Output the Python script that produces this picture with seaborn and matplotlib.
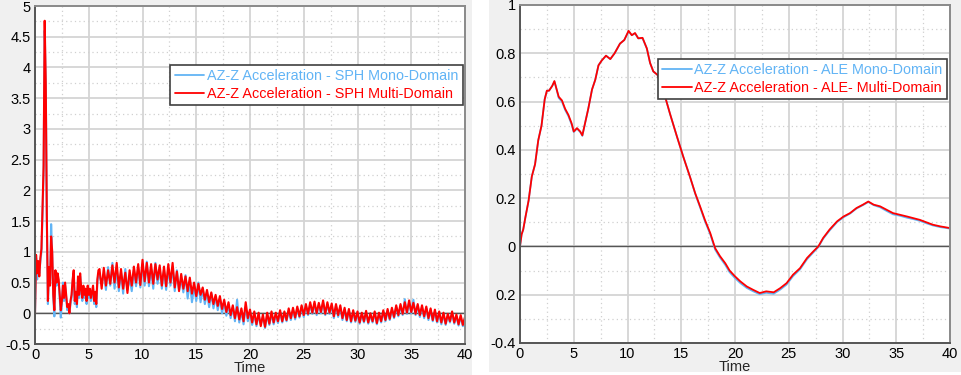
import numpy as np
import pandas as pd
import matplotlib
matplotlib.use("Agg")
import matplotlib.pyplot as plt
from matplotlib.patches import Rectangle
from matplotlib.ticker import MultipleLocator, FixedLocator
import seaborn as sns

# ---------------- data: SPH (left) ----------------
sph_t_early = [round(0.1 * i, 1) for i in range(60)]  # 0.0 .. 5.9
sph_t_late = [round(6.0 + 0.2 * i, 1) for i in range(171)]  # 6.0 .. 40.0

sph_multi_early = [0.0, 0.95, 0.65, 0.85, 0.6, 0.9, 1.05, 1.7, 2.4, 4.76,
                   3.75, 1.6, 0.2, 0.75, 0.45, 1.25, 1.0, 0.3, 0.05, 0.7,
                   0.5, 0.65, 0.55, 0.3, 0.05, 0.2, 0.45, 0.25, 0.5, 0.3,
                   0.1, 0.15, 0.0, 0.2, 0.3, 0.55, 0.7, 0.2, 0.35, 0.15,
                   0.6, 0.3, 0.65, 0.4, 0.25, 0.45, 0.3, 0.4, 0.2, 0.45,
                   0.3, 0.4, 0.25, 0.35, 0.45, 0.2, 0.35, 0.15, 0.55, 0.7]
sph_multi_late = [0.72, 0.40, 0.74, 0.45, 0.70,
                  0.48, 0.78, 0.50, 0.82, 0.42,
                  0.72, 0.40, 0.66, 0.33, 0.70,
                  0.45, 0.76, 0.50, 0.80, 0.46,
                  0.87, 0.52, 0.82, 0.50, 0.80,
                  0.48, 0.80, 0.55, 0.78, 0.45,
                  0.76, 0.44, 0.80, 0.50, 0.82,
                  0.42, 0.68, 0.36, 0.64, 0.40,
                  0.60, 0.36, 0.58, 0.32, 0.50,
                  0.28, 0.48, 0.30, 0.42, 0.22,
                  0.38, 0.18, 0.34, 0.15, 0.30,
                  0.12, 0.28, 0.07, 0.22, 0.02,
                  0.18, -0.03, 0.13, -0.08, 0.10,
                  -0.10, 0.08, -0.13, 0.18, -0.08,
                  0.06, -0.15, 0.03, -0.18, 0.01,
                  -0.21, -0.02, -0.22, 0.01, -0.17,
                  0.03, -0.15, 0.01, -0.13, 0.05,
                  -0.13, 0.03, -0.11, 0.08, -0.08,
                  0.09, -0.07, 0.11, -0.05, 0.13,
                  -0.03, 0.15, -0.01, 0.18, 0.01,
                  0.19, 0.00, 0.17, 0.02, 0.21,
                  -0.01, 0.18, 0.01, 0.16, -0.05,
                  0.15, -0.03, 0.13, -0.08, 0.09,
                  -0.11, 0.07, -0.13, 0.05, -0.12,
                  0.03, -0.15, 0.01, -0.13, 0.04,
                  -0.15, 0.00, -0.13, 0.03, -0.16,
                  0.01, -0.13, 0.05, -0.11, 0.07,
                  -0.09, 0.09, -0.06, 0.13, -0.03,
                  0.15, -0.01, 0.18, 0.01, 0.21,
                  0.02, 0.17, -0.01, 0.15, -0.03,
                  0.13, -0.05, 0.11, -0.08, 0.08,
                  -0.11, 0.06, -0.13, 0.03, -0.15,
                  0.01, -0.17, -0.01, -0.13, 0.03,
                  -0.15, -0.02, -0.18, -0.03, -0.19,
                  -0.06]

sph_mono_early = [0.0, 0.9, 0.55, 0.8, 0.65, 0.85, 1.0, 1.6, 2.3, 4.6,
                  3.7, 1.5, 0.15, 0.7, 0.5, 1.45, 0.95, 0.25, -0.05, 0.65,
                  0.45, 0.6, 0.5, 0.25, -0.07, 0.15, 0.5, 0.2, 0.45, 0.25,
                  0.05, 0.1, 0.0, 0.15, 0.25, 0.5, 0.65, 0.15, 0.3, 0.1,
                  0.55, 0.25, 0.6, 0.35, 0.2, 0.4, 0.25, 0.35, 0.15, 0.4,
                  0.25, 0.35, 0.2, 0.3, 0.4, 0.15, 0.3, 0.1, 0.5, 0.65]
sph_mono_late = [0.60, 0.50, 0.64, 0.38, 0.75,
                 0.45, 0.82, 0.40, 0.72, 0.36,
                 0.66, 0.32, 0.72, 0.38, 0.58,
                 0.36, 0.70, 0.44, 0.74, 0.42,
                 0.80, 0.45, 0.84, 0.44, 0.72,
                 0.40, 0.82, 0.48, 0.72, 0.40,
                 0.70, 0.38, 0.72, 0.45, 0.74,
                 0.36, 0.70, 0.38, 0.56, 0.34,
                 0.62, 0.24, 0.52, 0.18, 0.44,
                 0.20, 0.50, 0.18, 0.40, 0.15,
                 0.34, 0.10, 0.32, 0.08, 0.27,
                 0.05, 0.24, 0.00, 0.18, -0.04,
                 0.14, -0.08, 0.10, -0.13, 0.22,
                 -0.15, 0.04, -0.18, 0.10, -0.13,
                 0.02, -0.19, -0.01, -0.21, -0.03,
                 -0.18, -0.06, -0.24, -0.03, -0.19,
                 -0.01, -0.18, -0.03, -0.16, 0.02,
                 -0.15, 0.00, -0.13, 0.04, -0.11,
                 0.05, -0.10, 0.08, -0.07, 0.10,
                 -0.06, 0.12, -0.03, 0.14, -0.01,
                 0.15, -0.03, 0.14, 0.00, 0.17,
                 -0.03, 0.14, -0.01, 0.12, -0.08,
                 0.12, -0.06, 0.10, -0.11, 0.06,
                 -0.13, 0.04, -0.15, 0.02, -0.14,
                 -0.01, -0.17, -0.02, -0.15, 0.00,
                 -0.17, -0.03, -0.15, 0.00, -0.18,
                 -0.02, -0.15, 0.02, -0.13, 0.04,
                 -0.11, 0.06, -0.08, 0.10, -0.05,
                 0.12, -0.03, 0.23, -0.01, 0.17,
                 0.00, 0.22, -0.03, 0.12, -0.06,
                 0.10, -0.08, 0.08, -0.11, 0.05,
                 -0.13, 0.02, -0.15, 0.00, -0.18,
                 -0.02, -0.19, -0.04, -0.15, 0.00,
                 -0.17, -0.05, -0.20, -0.06, -0.21,
                 -0.09]

# ---------------- data: ALE (right) ----------------
ale_t = [0.0, 0.15, 0.3, 0.5, 0.8, 1.1, 1.4, 1.7, 2.0, 2.3, 2.5, 2.7, 3.0, 3.2,
         3.35, 3.6, 3.9, 4.2, 4.5, 4.8, 5.0, 5.3, 5.6, 5.8, 6.05, 6.35, 6.7,
         7.0, 7.3, 7.6, 8.0, 8.4, 8.8, 9.3, 9.7, 10.1, 10.4, 10.7, 11.0, 11.4,
         11.8, 12.1, 12.4, 12.8, 13.2, 13.5, 13.95, 14.6, 15.2, 15.8, 16.3,
         16.75, 17.2, 17.7, 18.15, 18.6, 19.1, 19.5, 20.0, 20.5, 21.1, 21.7,
         22.3, 22.9, 23.6, 24.2, 24.8, 25.4, 26.05, 26.7, 27.3, 27.75, 28.2,
         28.8, 29.5, 30.1, 30.7, 31.3, 31.9, 32.4, 32.9, 33.5, 34.1, 34.7,
         35.35, 36.0, 36.6, 37.2, 37.8, 38.4, 39.1, 40.0]
ale_multi = [0.00, 0.05, 0.07, 0.12, 0.19, 0.29, 0.34, 0.44, 0.50, 0.61, 0.645,
             0.645, 0.665, 0.685, 0.66, 0.62, 0.605, 0.57, 0.545, 0.51, 0.476,
             0.49, 0.476, 0.46, 0.51, 0.57, 0.65, 0.69, 0.75, 0.77, 0.79, 0.776,
             0.80, 0.84, 0.855, 0.893, 0.875, 0.884, 0.862, 0.864, 0.82, 0.76,
             0.725, 0.71, 0.66, 0.62, 0.55, 0.455, 0.37, 0.29, 0.22, 0.166,
             0.11, 0.055, -0.007, -0.04, -0.07, -0.10, -0.124, -0.145, -0.166,
             -0.18, -0.193, -0.186, -0.19, -0.173, -0.152, -0.117, -0.09,
             -0.048, -0.02, 0.0, 0.035, 0.07, 0.104, 0.124, 0.138, 0.159, 0.173,
             0.186, 0.173, 0.166, 0.152, 0.138, 0.131, 0.124, 0.117, 0.11, 0.10,
             0.09, 0.083, 0.076]
ale_mono = [0.00, 0.05, 0.07, 0.12, 0.19, 0.29, 0.34, 0.44, 0.50, 0.61, 0.645,
            0.645, 0.665, 0.683, 0.66, 0.615, 0.60, 0.565, 0.54, 0.505, 0.474,
            0.488, 0.474, 0.458, 0.51, 0.57, 0.65, 0.69, 0.75, 0.77, 0.79, 0.776,
            0.80, 0.84, 0.855, 0.891, 0.875, 0.882, 0.862, 0.862, 0.82, 0.76,
            0.725, 0.71, 0.66, 0.62, 0.55, 0.455, 0.37, 0.29, 0.218, 0.162,
            0.105, 0.05, -0.013, -0.046, -0.077, -0.107, -0.131, -0.152, -0.172,
            -0.186, -0.198, -0.192, -0.196, -0.179, -0.158, -0.123, -0.095,
            -0.053, -0.024, -0.003, 0.032, 0.066, 0.101, 0.121, 0.136, 0.157,
            0.171, 0.184, 0.171, 0.162, 0.147, 0.133, 0.127, 0.119, 0.113,
            0.106, 0.096, 0.087, 0.08, 0.074]

sph_labels = ["AZ-Z Acceleration - SPH Mono-Domain", "AZ-Z Acceleration - SPH Multi-Domain"]
ale_labels = ["AZ-Z Acceleration - ALE Mono-Domain", "AZ-Z Acceleration - ALE- Multi-Domain"]

left_yticks = [-0.5, 0, 0.5, 1, 1.5, 2, 2.5, 3, 3.5, 4, 4.5, 5]
left_yticklabels = ["-0.5", "0", "0.5", "1", "1.5", "2", "2.5", "3", "3.5", "4", "4.5", "5"]
right_yticks = [-0.4, -0.2, 0, 0.2, 0.4, 0.6, 0.8, 1.0]
right_yticklabels = ["-0.4", "0.2", "0", "0.2", "0.4", "0.6", "0.8", "1"]
xticks = [0, 5, 10, 15, 20, 25, 30, 35, 40]
xticklabels = ["0", "5", "10", "15", "20", "25", "30", "35", "40"]

BLUE = "#62b4f5"
RED = "#ff0000"
PANEL = "#f0f0f0"

sns.set_style("white")
plt.rcParams["font.family"] = ["Liberation Sans", "DejaVu Sans"]

W, H = 961, 375
fig = plt.figure(figsize=(W / 100, H / 100), dpi=100, facecolor="white")

# panel backgrounds
fig.add_artist(Rectangle((0, 0), 472 / W, 1, transform=fig.transFigure,
                         facecolor=PANEL, edgecolor="none", zorder=-10))
fig.add_artist(Rectangle((489 / W, 3 / H), 472 / W, 1 - 3 / H, transform=fig.transFigure,
                         facecolor=PANEL, edgecolor="none", zorder=-10))


def make_axes(x0, x1, ytop, ybot):
    return fig.add_axes([x0 / W, 1 - ybot / H, (x1 - x0) / W, (ybot - ytop) / H])


axL = make_axes(35, 465, 6, 344)
axR = make_axes(520, 950, 5, 343)

sph_t = sph_t_early + sph_t_late
dfL = pd.DataFrame({
    "Time": sph_t + sph_t,
    "value": sph_mono_early + sph_mono_late + sph_multi_early + sph_multi_late,
    "series": [sph_labels[0]] * len(sph_t) + [sph_labels[1]] * len(sph_t),
})
dfR = pd.DataFrame({
    "Time": ale_t + ale_t,
    "value": ale_mono + ale_multi,
    "series": [ale_labels[0]] * len(ale_t) + [ale_labels[1]] * len(ale_t),
})


def style_axes(ax, ylim, yticks, yticklabels, yminor):
    ax.set_facecolor("white")
    ax.set_xlim(0, 40)
    ax.set_ylim(*ylim)
    ax.xaxis.set_major_locator(FixedLocator(xticks))
    ax.set_xticklabels(xticklabels)
    ax.yaxis.set_major_locator(FixedLocator(yticks))
    ax.set_yticklabels(yticklabels)
    ax.xaxis.set_minor_locator(MultipleLocator(2.5))
    ax.yaxis.set_minor_locator(MultipleLocator(yminor))
    ax.grid(which="major", color="#d4d4d4", linewidth=1.3, linestyle="-", zorder=0)
    ax.grid(which="minor", color="#d0d0d0", linewidth=0.9, linestyle=(0, (1, 2.5)), zorder=0)
    ax.set_axisbelow(True)
    ax.axhline(0, color="#555555", linewidth=1.0, zorder=1)
    for s in ["left", "bottom"]:
        ax.spines[s].set_color("#555555")
        ax.spines[s].set_linewidth(1.4)
    for s in ["top", "right"]:
        ax.spines[s].set_color("#8a8a8a")
        ax.spines[s].set_linewidth(1.4)
    ax.tick_params(which="both", length=0, labelsize=10.5, colors="black", pad=3)
    ax.set_xlabel("Time", fontsize=10.5, labelpad=-1)
    ax.set_ylabel("")


def draw(ax, df, labels, anchor, lw):
    sns.lineplot(data=df, x="Time", y="value", hue="series", hue_order=labels,
                 palette=[BLUE, RED], estimator=None, sort=False, linewidth=lw,
                 ax=ax, legend=True)
    leg = ax.legend(loc="upper right", bbox_to_anchor=anchor, frameon=True,
                    fancybox=False, framealpha=1, edgecolor="#404040",
                    fontsize=10.4, handlelength=2.05, handletextpad=0.2,
                    borderpad=0.3, labelspacing=0.25, borderaxespad=0)
    leg.get_frame().set_linewidth(1.2)
    for txt, col in zip(leg.get_texts(), [BLUE, RED]):
        txt.set_color(col)
    for h in leg.get_lines():
        h.set_linewidth(1.3)


draw(axL, dfL, sph_labels, (0.995, 0.825), 1.5)
style_axes(axL, (-0.5, 5), left_yticks, left_yticklabels, 0.25)
draw(axR, dfR, ale_labels, (0.993, 0.84), 1.3)
style_axes(axR, (-0.4, 1.0), right_yticks, right_yticklabels, 0.1)

fig.savefig("out.png", dpi=100, facecolor="white")
